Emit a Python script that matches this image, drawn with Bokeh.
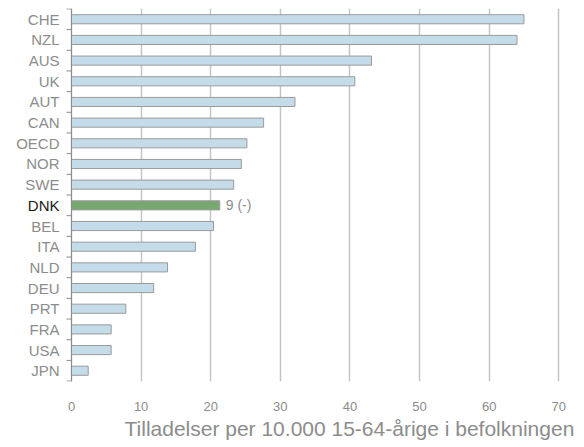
from bokeh.plotting import figure
from bokeh.models import Range1d, FixedTicker, ColumnDataSource, Span, Title
from bokeh.core.properties import value
from bokeh.embed import file_html
from bokeh.resources import INLINE
import math

countries = ["CHE", "NZL", "AUS", "UK", "AUT", "CAN", "OECD", "NOR", "SWE",
             "DNK", "BEL", "ITA", "NLD", "DEU", "PRT", "FRA", "USA", "JPN"]
values = [65.0, 64.0, 43.1, 40.7, 32.1, 27.6, 25.2, 24.4, 23.3,
          21.3, 20.4, 17.8, 13.8, 11.8, 7.8, 5.7, 5.7, 2.4]
highlight = "DNK"
highlight_note = "9 (-)"
x_ticks = [0, 10, 20, 30, 40, 50, 60, 70]
x_title = "Tilladelser per 10.000 15-64-årige i befolkningen"

FONT = "Liberation Sans"
GRAY_TXT = "#8c8c8c"
AXIS_GRAY = "#8c8c8c"

n = len(countries)
ypos = list(range(n))
colors = ["#77a86f" if c == highlight else "#c4dce9" for c in countries]
label_colors = ["#1a1a1a" if c == highlight else GRAY_TXT for c in countries]
src = ColumnDataSource(dict(y=ypos, right=values, color=colors,
                            name=countries, lcolor=label_colors))

X0 = -10.2
X1 = 70.25
FW = 560
p = figure(frame_width=FW, frame_height=373, output_backend="svg",
           toolbar_location=None, x_range=Range1d(X0, X1),
           y_range=Range1d(n - 0.5 + 0.02, -0.5 - 0.02),
           y_axis_location=None,
           min_border_left=0, min_border_right=22, min_border_top=8,
           min_border_bottom=0)
p.outline_line_color = None
p.background_fill_color = "white"
p.border_fill_color = "white"

p.xgrid.ticker = FixedTicker(ticks=x_ticks)
p.xgrid.grid_line_color = "#c4c4c4"
p.xgrid.grid_line_width = 1.5
p.ygrid.grid_line_color = None

p.hbar(y="y", left=0, right="right", height=0.44, fill_color="color",
       line_color="#9a9a9a", line_width=1, source=src)

# left axis line and boundary ticks
p.add_layout(Span(location=0, dimension="height", line_color=AXIS_GRAY, line_width=1))
bounds = [i - 0.5 for i in range(n + 1)]
p.ray(x=[0] * len(bounds), y=bounds, length=5, length_units="screen",
      angle=math.pi, line_color=AXIS_GRAY, line_width=1)

# category labels
p.text(x=0, y="y", text="name", source=src, x_offset=-12, text_align="right",
       text_baseline="middle", text_font=value(FONT), text_font_size="15px",
       text_color="lcolor")

hi = countries.index(highlight)
p.text(x=[values[hi]], y=[hi], text=[highlight_note], x_offset=6, text_align="left",
       text_baseline="middle", text_font=value(FONT), text_font_size="14px",
       text_color=GRAY_TXT)

# x axis
p.xaxis.ticker = FixedTicker(ticks=x_ticks)
p.xaxis.axis_line_color = None
p.xaxis.major_tick_line_color = None
p.xaxis.minor_tick_line_color = None
p.xaxis.major_label_standoff = 14
p.xaxis.major_label_text_font = FONT
p.xaxis.major_label_text_font_size = "13px"
p.xaxis.major_label_text_color = GRAY_TXT

p.add_layout(Title(text=x_title, align="left", offset=124, text_font=FONT,
                   text_font_size="21px", text_font_style="normal",
                   text_color=GRAY_TXT, standoff=3), "below")

open("out.html", "w").write(file_html(p, INLINE))
